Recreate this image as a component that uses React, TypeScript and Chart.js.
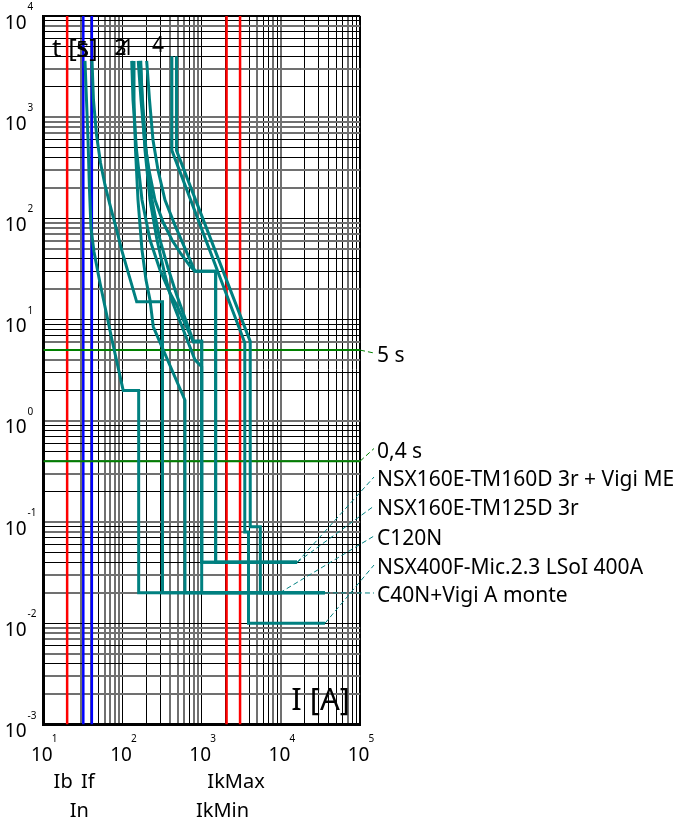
import { useEffect, useRef } from 'react';
import { Chart, registerables } from 'chart.js';

Chart.register(...registerables);

const WIDTH = 683;
const HEIGHT = 824;
const FONT = "'Noto Sans', 'DejaVu Sans', sans-serif";
const TEAL = '#008080';
const GREEN = '#008000';

// Axis ranges (current in A, time in s)
const CURRENT_MIN = 10;
const CURRENT_MAX = 1e5;
const TIME_MIN = 1e-3;
const TIME_MAX = 1e4;
const currentExponents = [1, 2, 3, 4, 5];
const timeExponents = [-3, -2, -1, 0, 1, 2, 3, 4];
const gridSteps = [1, 2, 3, 4, 5, 6, 7, 8, 9];

// Reference currents shown as vertical lines
const markerNames = ['Ib', 'In', 'If', 'IkMin', 'IkMax'];
const markerCurrents = [20, 32, 41, 2060, 3050];
const markerColors = ['#ff0000', '#0000ff', '#0000ff', '#ff0000', '#ff0000'];
const markerRows = [0, 1, 0, 1, 0];

// Time thresholds shown as horizontal lines
const thresholdNames = ['5 s', '0,4 s'];
const thresholdTimes = [5, 0.4];

// NSX160E-TM160D 3r + Vigi ME
const tm160MinI = [168, 178.9, 198.1, 235.8, 297.5, 375.4, 483.4, 783.4, 1000, 1000, 16000];
const tm160MinT = [3600, 1480, 474, 152, 61.2, 32.4, 17.5, 6.14, 6.14, 0.04, 0.04];
const tm160MaxI = [202, 219.3, 242.7, 280.7, 344.1, 460.1, 615.2, 823, 1500, 1500, 16000];
const tm160MaxT = [3600, 1480, 595, 300.9, 152, 85.5, 50.6, 30, 30, 0.04, 0.04];

// NSX160E-TM125D 3r
const tm125MinI = [130.7, 135.7, 150.3, 176.3, 222.5, 297.5, 397.9, 483.4, 783.4, 1000, 1000, 16000];
const tm125MinT = [3600, 1480, 474, 152, 61.2, 30.9, 18.3, 13.9, 6.0, 6.0, 0.04, 0.04];
const tm125MaxI = [158, 171.3, 189.6, 216.1, 257.3, 324.6, 421.7, 547.7, 711.9, 823, 1500, 1500, 16000];
const tm125MaxT = [3600, 1480, 595, 300.9, 152, 92.1, 61.2, 44.5, 33.8, 30, 30, 0.04, 0.04];

// C120N
const c120MinI = [137, 139.7, 145.9, 156.9, 176.3, 198.1, 222.5, 244.8, 615, 615, 9700];
const c120MinT = [3600, 1480, 474, 152, 48.7, 24.6, 15.6, 8.5, 1.6, 0.02, 0.02];
const c120MaxI = [170, 176.3, 192.3, 222.5, 272.7, 344.1, 418, 823, 1000, 1000, 9700];
const c120MaxT = [3600, 1480, 474, 152, 61.2, 27.6, 15.6, 4.0, 3.42, 0.02, 0.02];

// NSX400F-Mic.2.3 LSoI 400A
const nsx400MinI = [420, 420, 3500, 3500, 3900, 3900, 36000];
const nsx400MinT = [4000, 470, 5.9, 0.08, 0.08, 0.01, 0.01];
const nsx400MaxI = [480, 480, 4100, 4100, 5500, 5500, 36000];
const nsx400MaxT = [4000, 470, 6.1, 0.09, 0.09, 0.02, 0.02];

// C40N+Vigi A monte
const c40MinI = [33.6, 35.1, 36.7, 38.3, 40.0, 43.7, 52.0, 73.7, 102, 160, 160, 36000];
const c40MinT = [3600, 1480, 595, 191, 80.4, 46.6, 23.0, 6.29, 2.0, 2.0, 0.02, 0.02];
const c40MaxI = [41.2, 43.0, 47.0, 52.8, 60.1, 69.5, 84.5, 97.7, 151, 320, 320, 36000];
const c40MaxT = [3600, 1480, 667, 353, 214, 136, 76.8, 48.7, 15.0, 15.0, 0.02, 0.02];

const deviceNames = [
  'NSX160E-TM160D 3r + Vigi ME',
  'NSX160E-TM125D 3r',
  'C120N',
  'NSX400F-Mic.2.3 LSoI 400A',
  'C40N+Vigi A monte',
];
const deviceCurves = [
  [tm160MinI, tm160MinT, tm160MaxI, tm160MaxT],
  [tm125MinI, tm125MinT, tm125MaxI, tm125MaxT],
  [c120MinI, c120MinT, c120MaxI, c120MaxT],
  [nsx400MinI, nsx400MinT, nsx400MaxI, nsx400MaxT],
  [c40MinI, c40MinT, c40MaxI, c40MaxT],
];

// Curve numbers written near the top of the bands
const curveNumbers = ['5', '2', '3', '1', '4'];
const curveNumberCurrents = [30.8, 94.3, 94.3, 117, 281];
const curveNumberTimes = [3900, 4100, 4100, 4100, 4400];

// Right-hand label column (text baselines, px)
const LABEL_X = 377;
const LEADER_X = 374;
const labelBaselines = [362, 457.5, 486, 515, 545, 574, 602];

const toPoints = (I: number[], t: number[]) => I.map((x, i) => ({ x, y: t[i] }));

const gridTicks = (exps: number[]) => {
  const vals: { value: number }[] = [];
  for (let i = 0; i < exps.length - 1; i++) {
    for (const s of gridSteps) vals.push({ value: s * Math.pow(10, exps[i]) });
  }
  vals.push({ value: Math.pow(10, exps[exps.length - 1]) });
  return vals;
};

// lines falling between device pixels look grey and wider, crisp ones black
const gridLook = (ctx: any, which: 'color' | 'width') => {
  const scale = ctx.scale;
  const tick = ctx.tick;
  if (!scale || !tick) return which === 'color' ? '#000' : 1;
  if (tick.value >= scale.max * 0.999) return which === 'color' ? '#000' : 2;
  const p = scale.getPixelForValue(tick.value);
  const f = p - Math.floor(p);
  const crisp = Math.abs(f - 0.5) <= 0.25;
  if (which === 'color') return crisp ? '#000' : '#707070';
  return crisp ? 1 : 2;
};

const buildDatasets = () => {
  const sets: any[] = [];
  deviceCurves.forEach(([minI, minT, maxI, maxT]) => {
    [toPoints(minI, minT), toPoints(maxI, maxT)].forEach((data) => {
      sets.push({
        data,
        showLine: true,
        borderColor: TEAL,
        borderWidth: 3,
        pointRadius: 0,
        fill: false,
        tension: 0,
        order: 1,
      });
    });
  });
  thresholdTimes.forEach((t) => {
    sets.push({
      data: [
        { x: CURRENT_MIN, y: t },
        { x: CURRENT_MAX, y: t },
      ],
      showLine: true,
      borderColor: GREEN,
      borderWidth: 2,
      pointRadius: 0,
      order: 2,
    });
  });
  markerCurrents.forEach((I, i) => {
    sets.push({
      data: [
        { x: I, y: TIME_MIN },
        { x: I, y: TIME_MAX },
      ],
      showLine: true,
      borderColor: markerColors[i],
      borderWidth: 2.5,
      pointRadius: 0,
      order: 3,
    });
  });
  return sets;
};

const overlay = {
  id: 'overlay',
  afterDraw(chart: any) {
    const { ctx, chartArea } = chart;
    const xs = chart.scales.x;
    const ys = chart.scales.y;
    ctx.save();
    ctx.fillStyle = '#000';
    ctx.textBaseline = 'alphabetic';

    // time axis decades
    timeExponents.forEach((e) => {
      const py = ys.getPixelForValue(Math.pow(10, e));
      ctx.font = `19px ${FONT}`;
      ctx.textAlign = 'right';
      ctx.fillText('10', 26.5, py + 12.5);
      ctx.font = `10px ${FONT}`;
      ctx.textAlign = 'left';
      ctx.fillText(String(e), 27.5, py - 6);
    });

    // current axis decades
    currentExponents.forEach((e) => {
      const px = xs.getPixelForValue(Math.pow(10, e));
      ctx.font = `19px ${FONT}`;
      ctx.textAlign = 'center';
      ctx.fillText('10', px - 1.5, 761);
      ctx.font = `10px ${FONT}`;
      ctx.textAlign = 'left';
      ctx.fillText(String(e), px + 8.5, 742);
    });

    // reference current names
    ctx.font = `20px ${FONT}`;
    ctx.textAlign = 'center';
    markerNames.forEach((name, i) => {
      const px = xs.getPixelForValue(markerCurrents[i]);
      ctx.fillText(name, px - 4, markerRows[i] === 0 ? 788 : 817);
    });

    // axis titles
    ctx.font = `26px ${FONT}`;
    ctx.textAlign = 'left';
    ctx.fillText('t [s]', 52, 57);
    ctx.font = `31px ${FONT}`;
    ctx.textAlign = 'right';
    ctx.fillText('I [A]', 350, 710);

    // curve numbers
    ctx.font = `21px ${FONT}`;
    ctx.textAlign = 'center';
    curveNumbers.forEach((n, i) => {
      ctx.fillText(n, xs.getPixelForValue(curveNumberCurrents[i]), ys.getPixelForValue(curveNumberTimes[i]));
    });

    // leaders
    ctx.lineWidth = 1;
    ctx.setLineDash([5, 3]);
    thresholdTimes.forEach((t, i) => {
      ctx.strokeStyle = GREEN;
      ctx.beginPath();
      ctx.moveTo(chartArea.right, ys.getPixelForValue(t));
      ctx.lineTo(LEADER_X, labelBaselines[i] - 9);
      ctx.stroke();
    });
    deviceCurves.forEach(([minI, minT], i) => {
      const n = minI.length - 1;
      ctx.strokeStyle = TEAL;
      ctx.beginPath();
      ctx.moveTo(xs.getPixelForValue(minI[n]), ys.getPixelForValue(minT[n]));
      ctx.lineTo(LEADER_X, labelBaselines[i + thresholdNames.length] - 9);
      ctx.stroke();
    });
    ctx.setLineDash([]);

    // right-hand labels
    ctx.font = `21px ${FONT}`;
    ctx.textAlign = 'left';
    ctx.fillStyle = '#000';
    [...thresholdNames, ...deviceNames].forEach((name, i) => {
      ctx.fillText(name, LABEL_X, labelBaselines[i]);
    });

    ctx.restore();
  },
};

export default function App() {
  const ref = useRef<HTMLCanvasElement>(null);

  useEffect(() => {
    const canvas = ref.current;
    if (!canvas) return;
    const chart = new Chart(canvas, {
      type: 'scatter',
      data: { datasets: buildDatasets() },
      options: {
        responsive: false,
        animation: false,
        devicePixelRatio: 1,
        events: [],
        layout: { padding: { left: 43.3, right: WIDTH - 360.1, top: 16, bottom: HEIGHT - 724.5 } },
        plugins: { legend: { display: false }, tooltip: { enabled: false } },
        scales: {
          x: {
            type: 'logarithmic',
            position: 'bottom',
            min: CURRENT_MIN,
            max: CURRENT_MAX,
            afterBuildTicks: (scale: any) => {
              scale.ticks = gridTicks(currentExponents);
            },
            ticks: { display: false, callback: () => '' },
            grid: {
              drawTicks: false,
              color: (c: any) => gridLook(c, 'color'),
              lineWidth: (c: any) => gridLook(c, 'width'),
            },
            border: { display: true, color: '#000', width: 3 },
          },
          y: {
            type: 'logarithmic',
            position: 'left',
            min: TIME_MIN,
            max: TIME_MAX,
            afterBuildTicks: (scale: any) => {
              scale.ticks = gridTicks(timeExponents);
            },
            ticks: { display: false, callback: () => '' },
            grid: {
              drawTicks: false,
              color: (c: any) => gridLook(c, 'color'),
              lineWidth: (c: any) => gridLook(c, 'width'),
            },
            border: { display: true, color: '#000', width: 3 },
          },
        },
      } as any,
      plugins: [overlay],
    });
    return () => chart.destroy();
  }, []);

  return (
    <div style={{ position: 'absolute', left: 0, top: 0, width: WIDTH, height: HEIGHT, background: '#fff' }}>
      <canvas ref={ref} width={WIDTH} height={HEIGHT} style={{ display: 'block', width: WIDTH, height: HEIGHT }} />
    </div>
  );
}
